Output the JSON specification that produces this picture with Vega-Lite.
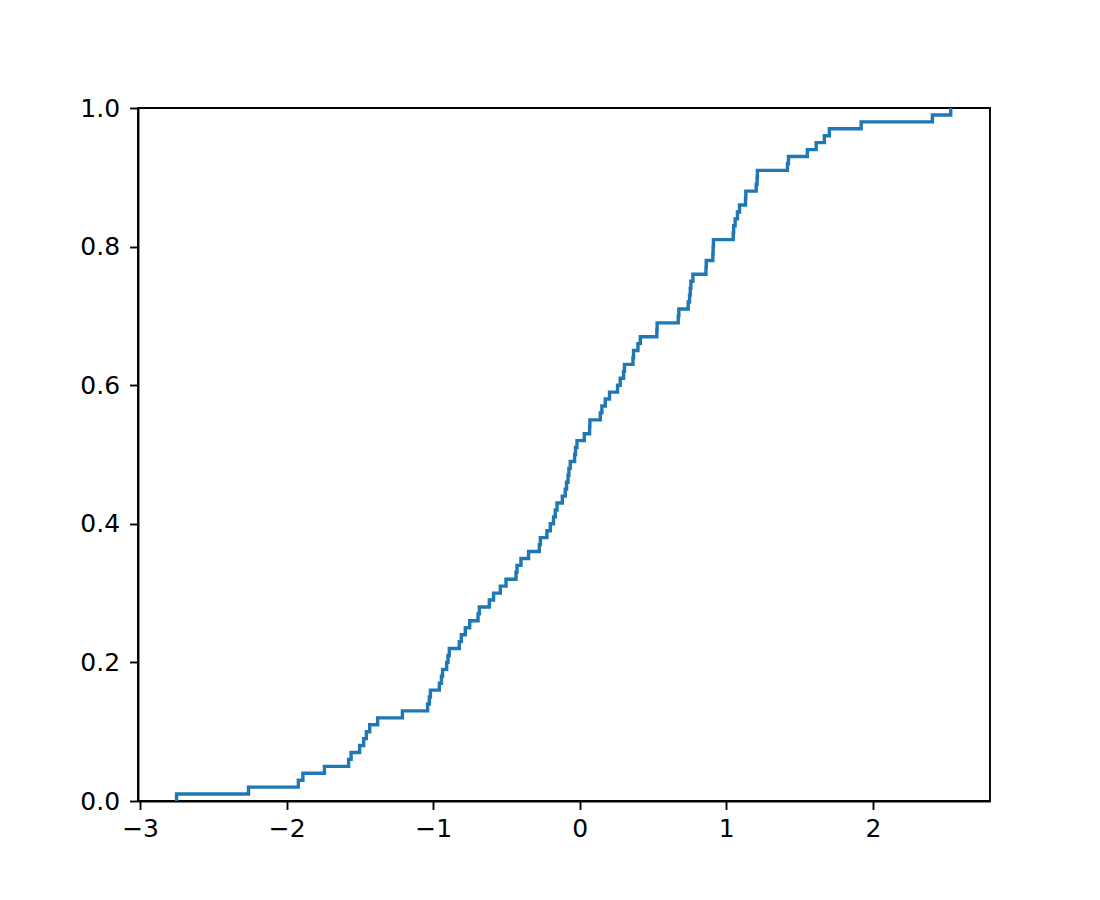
{
  "$schema": "https://vega.github.io/schema/vega-lite/v6.json",
  "autosize": "none",
  "padding": {"left": 138, "top": 108, "right": 110, "bottom": 99},
  "width": 852,
  "height": 693,
  "background": "white",
  "config": {
    "view": {"stroke": "black", "strokeWidth": 1.9},
    "axis": {
      "grid": false,
      "domainColor": "black",
      "domainWidth": 1.9,
      "tickColor": "black",
      "tickWidth": 1.9,
      "tickSize": 8.4,
      "labelColor": "black",
      "labelFont": "DejaVu Sans",
      "labelFontSize": 25,
      "labelPadding": 7,
      "title": null
    },
    "axisY": {"labelPadding": 10}
  },
  "data": {
    "values": [
      {"x": -2.751, "y": 0.0},
      {"x": -2.751, "y": 0.01}, {"x": -2.260, "y": 0.02}, {"x": -1.920, "y": 0.03}, {"x": -1.889, "y": 0.04}, {"x": -1.742, "y": 0.05},
      {"x": -1.577, "y": 0.06}, {"x": -1.560, "y": 0.07}, {"x": -1.502, "y": 0.08}, {"x": -1.474, "y": 0.09}, {"x": -1.456, "y": 0.10},
      {"x": -1.433, "y": 0.11}, {"x": -1.379, "y": 0.12}, {"x": -1.210, "y": 0.13}, {"x": -1.038, "y": 0.14}, {"x": -1.026, "y": 0.15},
      {"x": -1.019, "y": 0.16}, {"x": -0.958, "y": 0.17}, {"x": -0.944, "y": 0.18}, {"x": -0.936, "y": 0.19}, {"x": -0.908, "y": 0.20},
      {"x": -0.899, "y": 0.21}, {"x": -0.890, "y": 0.22}, {"x": -0.822, "y": 0.23}, {"x": -0.808, "y": 0.24}, {"x": -0.781, "y": 0.25},
      {"x": -0.751, "y": 0.26}, {"x": -0.694, "y": 0.27}, {"x": -0.685, "y": 0.28}, {"x": -0.617, "y": 0.29}, {"x": -0.588, "y": 0.30},
      {"x": -0.542, "y": 0.31}, {"x": -0.503, "y": 0.32}, {"x": -0.435, "y": 0.33}, {"x": -0.428, "y": 0.34}, {"x": -0.401, "y": 0.35},
      {"x": -0.349, "y": 0.36}, {"x": -0.276, "y": 0.37}, {"x": -0.269, "y": 0.38}, {"x": -0.224, "y": 0.39}, {"x": -0.201, "y": 0.40},
      {"x": -0.179, "y": 0.41}, {"x": -0.167, "y": 0.42}, {"x": -0.155, "y": 0.43}, {"x": -0.119, "y": 0.44}, {"x": -0.099, "y": 0.45},
      {"x": -0.090, "y": 0.46}, {"x": -0.080, "y": 0.47}, {"x": -0.074, "y": 0.48}, {"x": -0.065, "y": 0.49}, {"x": -0.035, "y": 0.50},
      {"x": -0.029, "y": 0.51}, {"x": -0.019, "y": 0.52}, {"x": 0.031, "y": 0.53}, {"x": 0.067, "y": 0.54}, {"x": 0.069, "y": 0.55},
      {"x": 0.140, "y": 0.56}, {"x": 0.151, "y": 0.57}, {"x": 0.174, "y": 0.58}, {"x": 0.203, "y": 0.59}, {"x": 0.258, "y": 0.60},
      {"x": 0.276, "y": 0.61}, {"x": 0.299, "y": 0.62}, {"x": 0.305, "y": 0.63}, {"x": 0.363, "y": 0.64}, {"x": 0.367, "y": 0.65},
      {"x": 0.397, "y": 0.66}, {"x": 0.413, "y": 0.67}, {"x": 0.526, "y": 0.68}, {"x": 0.528, "y": 0.69}, {"x": 0.672, "y": 0.70},
      {"x": 0.676, "y": 0.71}, {"x": 0.740, "y": 0.72}, {"x": 0.749, "y": 0.73}, {"x": 0.754, "y": 0.74}, {"x": 0.758, "y": 0.75},
      {"x": 0.772, "y": 0.76}, {"x": 0.861, "y": 0.77}, {"x": 0.863, "y": 0.78}, {"x": 0.908, "y": 0.79}, {"x": 0.910, "y": 0.80},
      {"x": 0.912, "y": 0.81}, {"x": 1.047, "y": 0.82}, {"x": 1.050, "y": 0.83}, {"x": 1.060, "y": 0.84}, {"x": 1.076, "y": 0.85},
      {"x": 1.090, "y": 0.86}, {"x": 1.131, "y": 0.87}, {"x": 1.133, "y": 0.88}, {"x": 1.204, "y": 0.89}, {"x": 1.210, "y": 0.90},
      {"x": 1.212, "y": 0.91}, {"x": 1.417, "y": 0.92}, {"x": 1.424, "y": 0.93}, {"x": 1.553, "y": 0.94}, {"x": 1.613, "y": 0.95},
      {"x": 1.669, "y": 0.96}, {"x": 1.703, "y": 0.97}, {"x": 1.920, "y": 0.98}, {"x": 2.406, "y": 0.99}, {"x": 2.531, "y": 1.00}
    ]
  },
  "mark": {"type": "line", "interpolate": "step-after", "color": "#1f77b4", "strokeWidth": 3.4, "clip": false, "strokeJoin": "miter", "strokeCap": "butt"},
  "encoding": {
    "x": {
      "field": "x",
      "type": "quantitative",
      "scale": {"domain": [-3.014, 2.799], "nice": false, "zero": false},
      "axis": {"values": [-3, -2, -1, 0, 1, 2], "format": "d"}
    },
    "y": {
      "field": "y",
      "type": "quantitative",
      "scale": {"domain": [0, 1], "nice": false},
      "axis": {"values": [0, 0.2, 0.4, 0.6, 0.8, 1.0], "format": ".1f"}
    },
    "order": {"field": "y", "type": "quantitative"}
  }
}
